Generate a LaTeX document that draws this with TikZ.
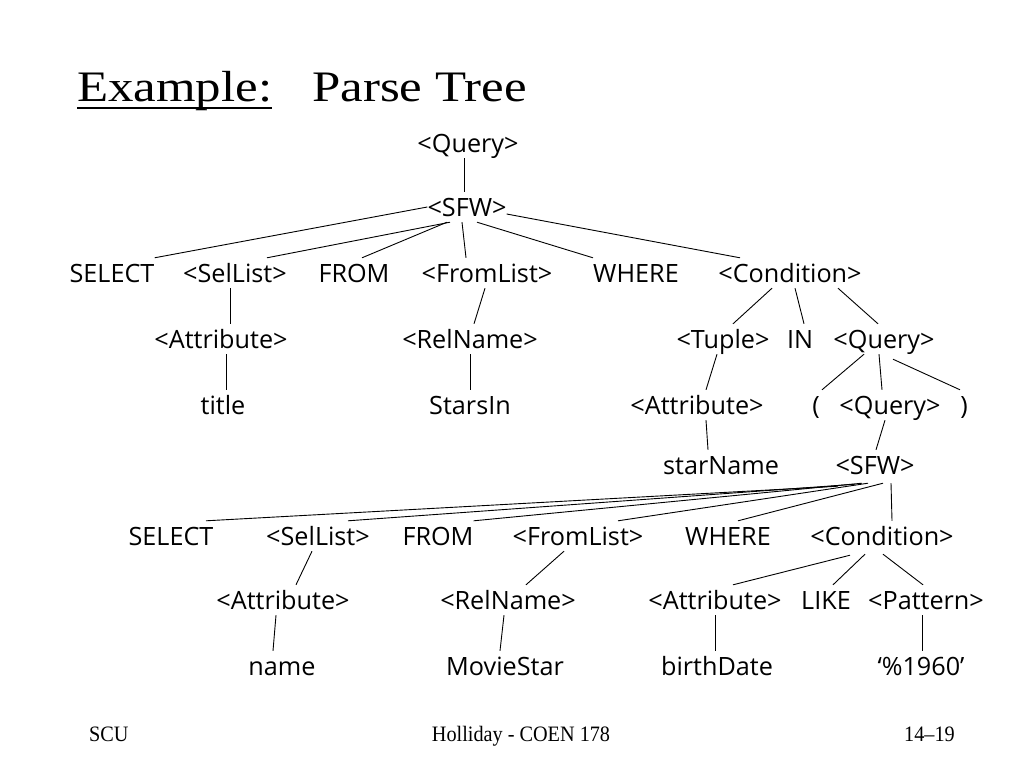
\documentclass[tikz,border=0pt]{standalone}
\usepackage{fontspec}
\setmainfont{Liberation Serif}
\newfontfamily\treefont{Open Sans}
\newfontfamily\titlefont[FakeStretch=1.17]{Liberation Serif}
\newfontfamily\footfont[FakeStretch=0.92]{Liberation Serif}
\usepackage{tikz}
\usetikzlibrary{positioning}

\begin{document}
\begin{tikzpicture}[
  x=1pt, y=-1pt,
  word/.style={font=\treefont\fontsize{25.2}{28}\selectfont, inner sep=0pt, text height=24pt, text depth=6pt, anchor=base},
  foot/.style={font=\footfont\fontsize{22}{24}\selectfont, inner sep=0pt, anchor=base},
  link/.style={line width=0.9pt}
]
\useasboundingbox[fill=white] (0,0) rectangle (1024,768);

\node[font=\titlefont\fontsize{43.5}{48}\selectfont, inner sep=0pt, anchor=base west] (ttlA) at (77,101) {Example:};
\node[font=\titlefont\fontsize{43.5}{48}\selectfont, inner sep=0pt, anchor=base west] (ttlB) at (312,101) {Parse Tree};
\draw[line width=2pt] (ttlA.base west) ++(0,7) -- ([yshift=-7pt]ttlA.base east);

\node[word] (q0) at (468,152) {<Query>};
\node[word] (sfwA) at (467,216) {<SFW>};

\node[word] (selA) at (112,282) {SELECT};
\node[word] (sellistA) at (235,282) {<SelList>};
\node[word] (fromA) at (354,282) {FROM};
\node[word] (fromlistA) at (487,282) {<FromList>};
\node[word] (whereA) at (636,282) {WHERE};
\node[word] (condA) at (790,282) {<Condition>};

\node[word] (attrA) at (221,348) {<Attribute>};
\node[word] (relA) at (470,348) {<RelName>};
\node[word] (tuple) at (723,348) {<Tuple>};
\node[word] (inkw) at (800,348) {IN};
\node[word] (q1) at (884,348) {<Query>};

\node[word] (title) at (223,414) {title};
\node[word] (starsin) at (470,414) {StarsIn};
\node[word] (attrT) at (697,414) {<Attribute>};
\node[word] (lpar) at (816,414) {(};
\node[word] (q2) at (890,414) {<Query>};
\node[word] (rpar) at (964,414) {)};

\node[word] (starname) at (721,474) {starName};
\node[word] (sfwB) at (875,474) {<SFW>};

\node[word] (selB) at (171,545) {SELECT};
\node[word] (sellistB) at (318,545) {<SelList>};
\node[word] (fromB) at (438,545) {FROM};
\node[word] (fromlistB) at (578,545) {<FromList>};
\node[word] (whereB) at (728,545) {WHERE};
\node[word] (condB) at (882,545) {<Condition>};

\node[word] (attrB) at (283,609) {<Attribute>};
\node[word] (relB) at (508,609) {<RelName>};
\node[word] (attrC) at (715,609) {<Attribute>};
\node[word] (like) at (826,609) {LIKE};
\node[word] (pattern) at (926,609) {<Pattern>};

\node[word] (name) at (282,675) {name};
\node[word] (moviestar) at (505,675) {MovieStar};
\node[word] (birthdate) at (717,675) {birthDate};
\node[word] (pat) at (921,675) {‘\%1960’};

\node[foot, anchor=base west] (scu) at (89,741) {SCU};
\node[foot] (course) at (521,741) {Holliday - COEN 178};
\node[foot, anchor=base east] (page) at (955,741) {14–19};

\draw[link] ([xshift=-4pt]q0.south) -- ([xshift=-3pt]sfwA.north);

\draw[link] (sfwA.west) -- (selA.north east);
\draw[link] ([xshift=-17pt]sfwA.south) -- ([xshift=32pt]sellistA.north);
\draw[link] ([xshift=-20pt]sfwA.south) -- ([xshift=8pt]fromA.north);
\draw[link] ([xshift=-5pt]sfwA.south) -- ([xshift=-21pt]fromlistA.north);
\draw[link] ([xshift=10pt]sfwA.south) -- ([xshift=-43pt]whereA.north);
\draw[link] (sfwA.-10) -- ([xshift=-50pt]condA.north);

\draw[link] ([xshift=-5pt]sellistA.south) -- ([xshift=9pt]attrA.north);
\draw[link] ([xshift=-2pt]fromlistA.south) -- ([xshift=4pt]relA.north);
\draw[link] ([xshift=-18pt]condA.south) -- ([xshift=10pt]tuple.north);
\draw[link] ([xshift=5pt]condA.south) -- ([xshift=4pt]inkw.north);
\draw[link] ([xshift=48pt]condA.south) -- ([xshift=-6pt]q1.north);

\draw[link] ([xshift=5pt]attrA.south) -- ([xshift=3pt]title.north);
\draw[link] (relA.south) -- (starsin.north);
\draw[link] ([xshift=-6pt]tuple.south) -- ([xshift=9pt]attrT.north);
\draw[link] ([xshift=-20pt]q1.south) -- ([xshift=6pt]lpar.north);
\draw[link] ([xshift=-5pt]q1.south) -- ([xshift=-8pt]q2.north);
\draw[link] ([xshift=9pt,yshift=-5pt]q1.south) -- ([xshift=-4pt]rpar.north);

\draw[link] ([xshift=9pt]attrT.south) -- ([xshift=-13pt]starname.north);
\draw[link] ([xshift=-5pt]q2.south) -- ([xshift=1pt]sfwB.north);

\draw[link] ([xshift=-37pt,yshift=-6pt]sfwB.south) -- ([xshift=35pt]selB.north);
\draw[link] ([xshift=-20pt,yshift=-4pt]sfwB.south) -- ([xshift=30pt]sellistB.north);
\draw[link] ([xshift=-13pt,yshift=-3pt]sfwB.south) -- (fromB.north east);
\draw[link] ([xshift=-7pt,yshift=-3pt]sfwB.south) -- ([xshift=40pt]fromlistB.north);
\draw[link] ([xshift=8pt,yshift=-3pt]sfwB.south) -- ([xshift=10pt]whereB.north);
\draw[link] ([xshift=16pt,yshift=-3pt]sfwB.south) -- ([xshift=10pt]condB.north);

\draw[link] ([xshift=-6pt]sellistB.south) -- ([xshift=13pt]attrB.north);
\draw[link] ([xshift=-14pt]fromlistB.south) -- ([xshift=18pt]relB.north);
\draw[link] ([xshift=-32pt,yshift=-4pt]condB.south) -- ([xshift=18pt]attrC.north);
\draw[link] ([xshift=-17pt,yshift=-3pt]condB.south) -- ([xshift=7pt]like.north);
\draw[link] ([xshift=1pt,yshift=-3pt]condB.south) -- ([xshift=-3pt]pattern.north);

\draw[link] ([xshift=-7pt]attrB.south) -- ([xshift=-9pt]name.north);
\draw[link] ([xshift=-4pt]relB.south) -- ([xshift=-5pt]moviestar.north);
\draw[link] (attrC.south) -- ([xshift=-2pt]birthdate.north);
\draw[link] ([xshift=-4pt]pattern.south) -- ([xshift=1pt]pat.north);
\end{tikzpicture}
\end{document}
